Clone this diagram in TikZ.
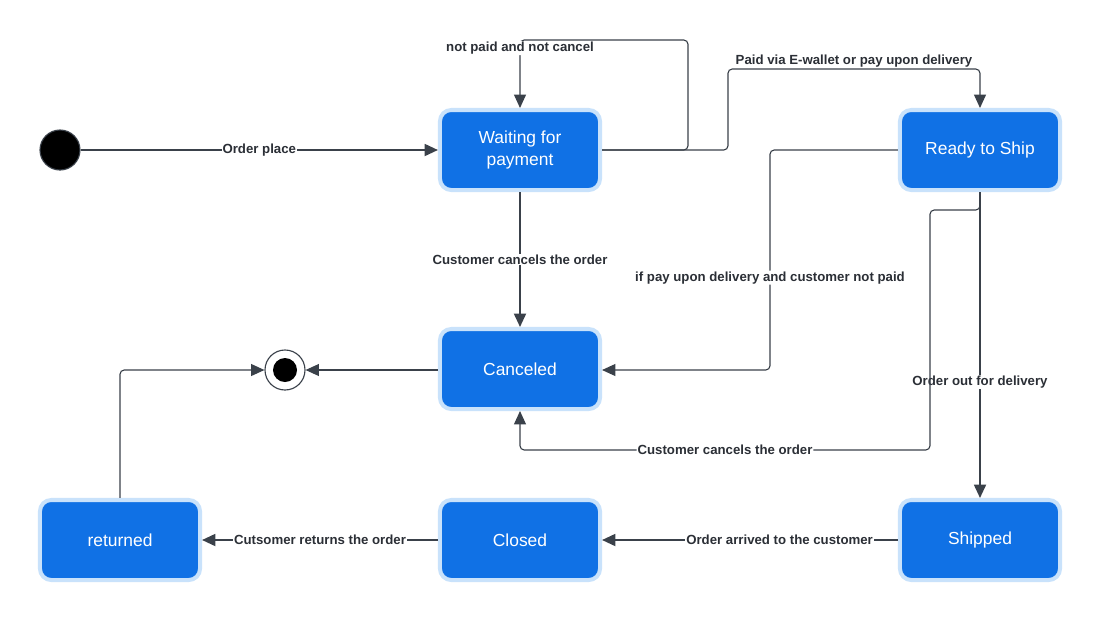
\documentclass[tikz,border=0pt]{standalone}
\usepackage{fontspec}
\setmainfont{Liberation Sans}
\usepackage{xcolor}
\usepackage{tikz}
\usetikzlibrary{shapes,arrows.meta}
\definecolor{boxblue}{HTML}{1071E5}
\definecolor{boxrim}{HTML}{C9E2FB}
\definecolor{wire}{HTML}{3A414A}
\definecolor{ink}{HTML}{2B2F36}

\begin{document}
\begin{tikzpicture}[x=0.025cm, y=-0.025cm,
        state/.style = {draw=boxrim, fill=boxblue, line width=2.85pt, rounded corners=8pt, minimum width=4cm, minimum height=2cm, text=white, align=center, font=\fontsize{12.4}{15}\selectfont},
        lbl/.style = {fill=white, inner sep=0.6pt, text=ink, font=\bfseries\fontsize{9.4}{11}\selectfont},
        flow/.style = {draw=wire, line width=1.4pt, -{Triangle[length=9.5pt,width=8.5pt]}},
        bent/.style = {draw=wire, line width=0.8pt, rounded corners=3pt, -{Triangle[length=9.5pt,width=8.5pt]}}]
        
        \useasboundingbox (0,0) rectangle (1100,621);
        
        \node[circle, fill=black, draw=wire, line width=0.8pt, minimum size=1cm, inner sep=0pt] (init) at (60,150) {};
        \node[circle, draw=wire, line width=0.8pt, minimum size=1cm, inner sep=0pt] (final) at (285,370) {};
        \node[circle, fill=black, minimum size=0.6cm, inner sep=0pt] (finaldot) at (final) {};
        
        \node[state] (wait) at (520,150) {Waiting for\\payment};
        \node[state] (ready) at (980,150) {Ready to Ship};
        \node[state] (canceled) at (520,369) {Canceled};
        \node[state] (returned) at (120,540) {returned};
        \node[state] (closed) at (520,540) {Closed};
        \node[state] (shipped) at (980,540) {Shipped};
        
        \draw[flow] (init) -- node[lbl]{Order place} (wait);
        \draw[bent] (wait.east) -- (688,150) -- (688,40) -- (520,40) -- node[lbl, pos=0.12]{not paid and not cancel} (wait.north);
        \draw[bent] (wait.east) -- (728,150) -- (728,69) -- node[lbl, above, fill=none, inner sep=0.5pt]{Paid via E-wallet or pay upon delivery} (980,69) -- (ready.north);
        \draw[bent] (ready.west) -- (770,150) -- node[lbl, pos=0.58]{if pay upon delivery and customer not paid} (770,370) -- (canceled.east |- 0,370);
        \draw[flow] (ready) -- node[lbl, pos=0.62]{Order out for delivery} (shipped);
        \draw[bent] (ready.south) -- (980,210) -- (930,210) -- (930,450) -- node[lbl]{Customer cancels the order} (520,450) -- (canceled.south);
        \draw[flow] (wait) -- node[lbl]{Customer cancels the order} (canceled);
        \draw[bent] (canceled.west |- final) -- (final);
        \draw[bent] (returned.north) -- (120,370) -- (final);
        \draw[flow] (shipped) -- node[lbl, pos=0.4]{Order arrived to the customer} (closed);
        \draw[flow] (closed) -- node[lbl]{Cutsomer returns the order} (returned);
        
    \end{tikzpicture}
\end{document}
